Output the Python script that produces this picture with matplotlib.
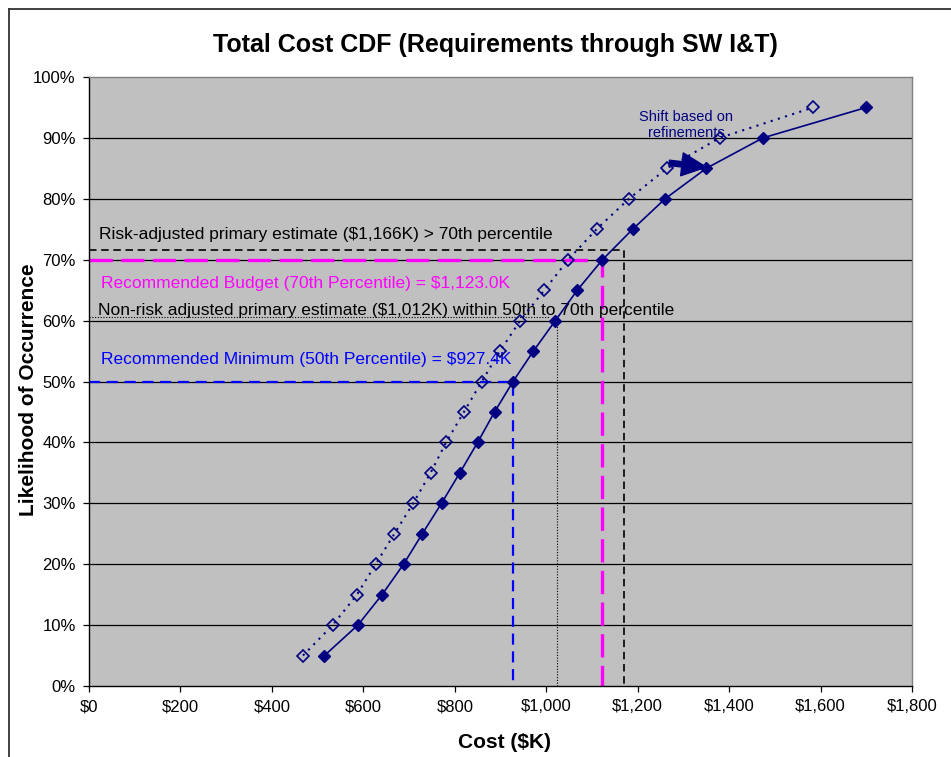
import matplotlib
matplotlib.use("Agg")
import matplotlib.pyplot as plt
from matplotlib.lines import Line2D
from matplotlib.patches import FancyArrowPatch

plt.rcParams['font.family'] = ['Liberation Sans', 'DejaVu Sans']

# ---- data ----
percentiles = [5, 10, 15, 20, 25, 30, 35, 40, 45, 50, 55, 60, 65, 70, 75, 80, 85, 90, 95]
risk_adjusted_cost = [515, 588, 641, 688, 729, 771, 811, 850, 887, 927.4, 972, 1020,
                      1068, 1123, 1189, 1260, 1350, 1474, 1700]
refined_cost = [468, 533, 586, 627, 668, 709, 747, 781, 820, 859, 899, 943, 996,
                1048, 1110, 1181, 1264, 1379, 1584]

x_ticks = list(range(0, 1801, 200))
x_tick_labels = ["$0", "$200", "$400", "$600", "$800", "$1,000", "$1,200", "$1,400", "$1,600", "$1,800"]
y_ticks = list(range(0, 101, 10))
y_tick_labels = [f"{v}%" for v in y_ticks]

budget_cost, budget_pct = 1123.0, 70
minimum_cost, minimum_pct = 927.4, 50
risk_est_cost, risk_est_pct = 1170, 71.6
nonrisk_h_end, nonrisk_pct = 1005, 60.6
nonrisk_v_cost, nonrisk_v_top = 1024, 59.5
arrow_start = (1269, 85.9)
arrow_end = (1350, 85.2)

title = "Total Cost CDF (Requirements through SW I&T)"
xlabel = "Cost ($K)"
ylabel = "Likelihood of Occurrence"

W, H = 951, 757
fig = plt.figure(figsize=(W / 100, H / 100), dpi=100)
fig.patch.set_facecolor("white")
ax = fig.add_axes([89 / W, 1 - 686 / H, (912 - 89) / W, (686 - 77) / H])
ax.set_facecolor("#C0C0C0")
ax.set_xlim(0, 1800)
ax.set_ylim(0, 100)

# gridlines
for v in y_ticks[1:-1]:
    ax.axhline(v, color="black", lw=0.9, zorder=1)

# spines
for s in ["left", "bottom"]:
    ax.spines[s].set_color("black")
    ax.spines[s].set_linewidth(1.0)
for s in ["top", "right"]:
    ax.spines[s].set_color("#808080")
    ax.spines[s].set_linewidth(1.0)

ax.set_xticks(x_ticks)
ax.set_xticklabels(x_tick_labels, fontsize=12)
ax.set_yticks(y_ticks)
ax.set_yticklabels(y_tick_labels, fontsize=12)
ax.tick_params(direction="out", length=4.5, width=0.9, color="black", pad=5)

# reference lines
ax.plot([0, risk_est_cost, risk_est_cost], [risk_est_pct, risk_est_pct, 0],
        color="black", lw=1.2, dashes=(4.5, 2.8), zorder=2)
ax.plot([0, nonrisk_h_end], [nonrisk_pct, nonrisk_pct], color="black", lw=0.8,
        dashes=(1, 1.5), zorder=2)
ax.plot([nonrisk_v_cost, nonrisk_v_cost], [0, nonrisk_v_top], color="black", lw=0.8,
        dashes=(1, 1.5), zorder=2)
ax.plot([0, minimum_cost, minimum_cost], [minimum_pct, minimum_pct, 0],
        color="#0000FF", lw=1.6, dashes=(5, 3), zorder=2)
ax.plot([0, budget_cost, budget_cost], [budget_pct, budget_pct, 0],
        color="#FF00FF", lw=2.4, dashes=(7, 2.5), zorder=2)

# series
navy = "#000080"
ax.plot(refined_cost, percentiles, color=navy, lw=1.5, dashes=(1, 2.6),
        marker="D", markersize=6, markerfacecolor="none", markeredgecolor=navy,
        markeredgewidth=1.2, zorder=4)
ax.plot(risk_adjusted_cost, percentiles, color=navy, lw=1.2,
        marker="D", markersize=6.2, markerfacecolor=navy, markeredgecolor=navy, zorder=5)

# texts
ax.text(22, 74.2, "Risk-adjusted primary estimate ($1,166K) > 70th percentile",
        fontsize=12.5, color="black", va="center", ha="left")
ax.text(27, 66.1, "Recommended Budget (70th Percentile) = $1,123.0K",
        fontsize=12.5, color="#FF00FF", va="center", ha="left")
ax.text(20, 61.7, "Non-risk adjusted primary estimate ($1,012K) within 50th to 70th percentile",
        fontsize=12.5, color="black", va="center", ha="left")
ax.text(27, 53.6, "Recommended Minimum (50th Percentile) = $927.4K",
        fontsize=12.5, color="#0000FF", va="center", ha="left")
ax.text(1306, 92.1, "Shift based on\nrefinements", fontsize=10.5, color=navy,
        ha="center", va="center", linespacing=1.15)

arrow = FancyArrowPatch(arrow_start, arrow_end,
                        arrowstyle="simple,head_length=1.6,head_width=1.5,tail_width=0.35",
                        mutation_scale=11, color=navy, zorder=6, shrinkA=0, shrinkB=0)
ax.add_patch(arrow)

# titles
fig.text(495 / W, 1 - 45 / H, title, fontsize=18, fontweight="bold",
         ha="center", va="center")
fig.text(505 / W, 1 - 743 / H, xlabel, fontsize=15, fontweight="bold",
         ha="center", va="center")
fig.text(29 / W, 1 - 390 / H, ylabel, fontsize=15, fontweight="bold",
         ha="center", va="center", rotation=90)

# chart-area border (left and top edges visible)
fig.add_artist(Line2D([8.5 / W, 8.5 / W], [0, 1 - 8.5 / H], transform=fig.transFigure,
                      color="#333333", lw=1.3))
fig.add_artist(Line2D([8.5 / W, 1], [1 - 8.5 / H, 1 - 8.5 / H], transform=fig.transFigure,
                      color="#333333", lw=1.3))

fig.savefig("out.png", dpi=100)
